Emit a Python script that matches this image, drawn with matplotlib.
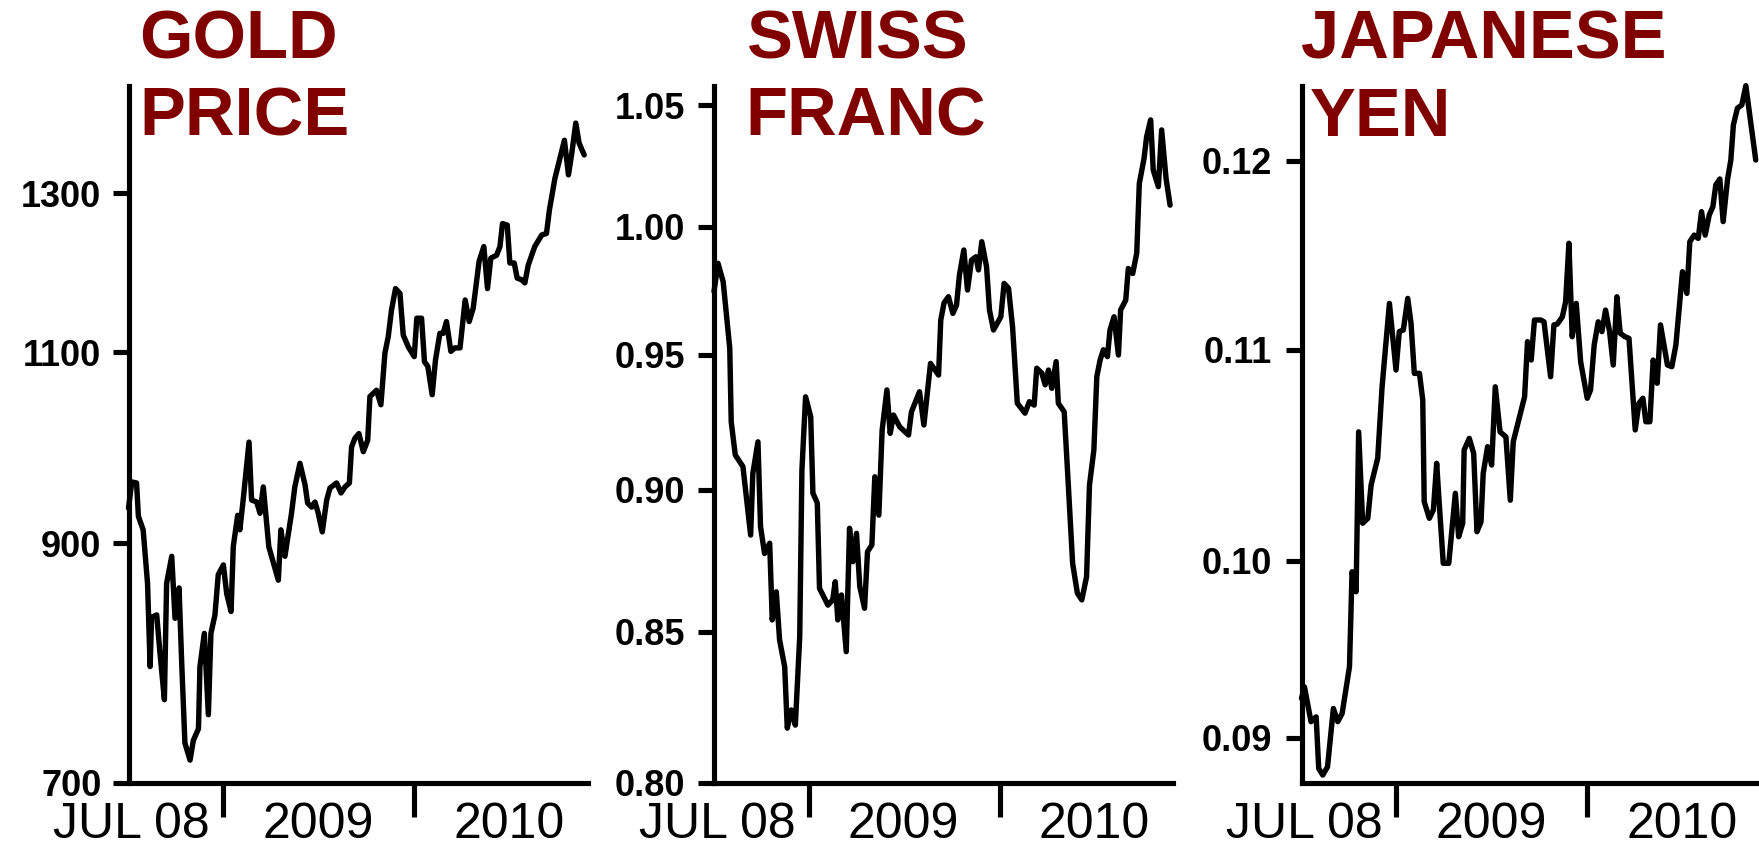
import numpy as np
import matplotlib
matplotlib.use("Agg")
import matplotlib.pyplot as plt
import matplotlib.dates as mdates
from matplotlib.ticker import FixedLocator, FixedFormatter, NullLocator, NullFormatter

# weekly series, x in weeks since the first week of July 2008
START = np.datetime64('2008-07-04')
SPAN_WEEKS = 125.3

gold_weeks = [0, 0.9, 2.2, 2.7, 4.0, 5.2, 5.9, 6.3, 7.7, 8.6, 9.8, 10.4, 11.8, 12.7,
              13.8, 14.5, 15.4, 16.8, 17.7, 19.1, 19.5, 20.7, 21.8, 22.5, 23.6, 24.5,
              25.9, 26.8, 28.0, 28.6, 29.8, 30.4, 31.3, 32.9, 33.6, 35.0, 35.9, 36.8,
              38.3, 40.9, 41.6, 42.7, 44.5, 45.4, 46.8, 48.2, 48.9, 50.0, 50.9, 51.8,
              52.9, 54.1, 55.0, 56.8, 58.0, 59.1, 60.3, 60.9, 61.8, 62.9, 64.1, 65.3,
              65.9, 67.7, 68.9, 70.0, 70.9, 71.8, 72.9, 74.1, 75.0, 76.4, 78.0, 78.7,
              80.0, 80.8, 81.7, 82.9, 83.8, 85.0, 85.9, 86.8, 88.0, 89.1, 90.5, 91.9,
              93.0, 94.1, 95.7, 97.0, 98.0, 98.9, 100.5, 101.4, 102.1, 103.4, 104.1,
              105.3, 106.1, 107.3, 108.2, 109.1, 110.9, 112.8, 114.1, 114.9, 116.4,
              119.0, 120.1, 121.0, 122.1, 123.0, 124.4]
gold_price = [934, 960, 959, 926, 913, 863, 791, 833, 835, 802, 764, 863, 888, 832,
              859, 796, 730, 717, 732, 741, 791, 819, 752, 819, 835, 871,
              880, 854, 838, 897, 927, 913, 942, 1001, 942, 940, 929, 955,
              897, 866, 913, 888, 929, 955, 979, 957, 939, 935, 940, 929,
              911, 942, 954, 959, 949, 955, 959, 996, 1005, 1010, 991, 1003,
              1050, 1057, 1041, 1099, 1118, 1150, 1176, 1170, 1120, 1106, 1095, 1140,
              1140, 1089, 1084, 1052, 1091, 1122, 1122, 1136, 1101, 1105, 1105, 1162,
              1136, 1152, 1210, 1229, 1176, 1214, 1218, 1229, 1259, 1257, 1208,
              1208, 1189, 1187, 1183, 1205, 1229, 1244, 1246, 1277, 1320,
              1374, 1325, 1355, 1399, 1370, 1353]

franc_weeks = [0, 1.1, 2.5, 4.3, 4.7, 5.8, 7.9, 10.0, 10.6, 12.0, 12.7, 13.8, 15.2,
               15.9, 17.0, 17.9, 19.3, 20.0, 21.1, 22.2, 23.4, 24.0, 25.0, 26.4, 27.0,
               28.2, 28.8, 31.1, 32.4, 33.1, 33.8, 34.8, 36.1, 37.0, 37.9, 38.9, 39.8,
               41.1, 41.9, 43.1, 43.9, 45.0, 45.9, 47.2, 48.1, 49.0, 50.7, 53.1, 53.9,
               56.1, 57.3, 59.1, 61.3, 61.9, 62.8, 64.0, 65.2, 66.2, 67.0, 68.2, 69.2,
               70.3, 71.5, 72.2, 73.1, 74.4, 75.2, 76.3, 78.3, 79.2, 80.4, 81.5, 82.8,
               84.9, 86.1, 87.4, 88.1, 89.5, 90.4, 91.3, 92.2, 93.4, 94.0, 95.6, 96.7,
               97.9, 99.2, 100.4, 101.7, 102.5, 103.7, 104.5, 105.4, 106.3, 107.4,
               108.1, 109.2, 110.4, 111.0, 112.4, 113.1, 114.3, 115.4, 116.1, 117.4,
               118.1, 119.2, 119.9, 121.3, 122.2, 123.4, 124.5]
franc_usd = [0.9744, 0.9855, 0.9783, 0.9525, 0.9248, 0.9126, 0.9083, 0.8837, 0.9058,
             0.9174, 0.8867, 0.8772, 0.8808, 0.8541, 0.8638, 0.8473, 0.8382, 0.8178,
             0.8238, 0.8188, 0.8484, 0.9070, 0.9341, 0.9267, 0.8987, 0.8951, 0.8650,
             0.8592, 0.8610, 0.8673, 0.8541, 0.8627, 0.8433, 0.8861, 0.8743, 0.8843,
             0.8656, 0.8581, 0.8778, 0.8802, 0.9046, 0.8908, 0.9217, 0.9367, 0.9205,
             0.9273, 0.9229, 0.9199, 0.9285, 0.9360, 0.9236, 0.9467, 0.9423, 0.9633,
             0.9700, 0.9724, 0.9659, 0.9691, 0.9809, 0.9908, 0.9750, 0.9868, 0.9881,
             0.9829, 0.9941, 0.9842, 0.9672, 0.9595, 0.9646, 0.9776, 0.9757, 0.9608,
             0.9317, 0.9280, 0.9323, 0.9310, 0.9449, 0.9430, 0.9386, 0.9442, 0.9373,
             0.9474, 0.9317, 0.9285, 0.9022, 0.8737, 0.8633, 0.8610, 0.8690, 0.9016,
             0.9144, 0.9417, 0.9480, 0.9519, 0.9493, 0.9595, 0.9646, 0.9499, 0.9672,
             0.9711, 0.9835, 0.9815, 0.9895, 1.0176, 1.0279, 1.0369, 1.0439, 1.0231,
             1.0163, 1.0397, 1.0197, 1.0088]

yen_weeks = [0, 0.8, 2.6, 4.0, 4.7, 5.8, 7.1, 8.7, 9.9, 11.1, 13.1, 13.8, 14.9, 15.6,
             16.7, 18.1, 19.0, 20.8, 22.0, 24.0, 25.8, 26.7, 27.8, 29.0, 29.9, 30.8,
             32.2, 33.1, 33.5, 34.9, 36.0, 36.9, 37.6, 38.7, 40.2, 42.0, 42.9, 44.0,
             44.4, 45.8, 47.0, 47.9, 49.0, 49.6, 50.8, 51.9, 52.9, 54.2, 55.8, 57.0,
             57.8, 60.9, 61.7, 62.7, 63.6, 65.3, 66.2, 68.0, 68.9, 69.8, 71.2, 72.1,
             73.0, 73.9, 75.0, 76.2, 78.0, 78.9, 79.9, 81.0, 82.0, 83.0, 84.1, 85.1,
             86.1, 87.0, 88.3, 89.4, 91.1, 92.1, 93.2, 94.0, 95.1, 96.0, 97.1, 98.0,
             99.9, 101.1, 102.2, 103.1, 104.0, 105.2, 106.0, 107.2, 108.3, 109.2,
             110.2, 111.3, 112.3, 113.1, 114.2, 115.1, 116.3, 117.2, 117.9, 119.0,
             120.2, 121.3, 122.6, 124.0]
yen_usd = [0.09178, 0.09231, 0.09072, 0.09094, 0.08863, 0.08834, 0.08870, 0.09132,
           0.09072, 0.09110, 0.09324, 0.09776, 0.09679, 0.10482, 0.10015, 0.10040,
           0.10208, 0.10345, 0.10720, 0.11175, 0.10810, 0.11019, 0.11028, 0.11203,
           0.11065, 0.10792, 0.10792, 0.10650, 0.10123, 0.10040, 0.10082, 0.10319,
           0.10115, 0.09817, 0.09817, 0.10166, 0.09948, 0.10015, 0.10388, 0.10448,
           0.10370, 0.09973, 0.10022, 0.10267, 0.10405, 0.10310, 0.10720, 0.10482,
           0.10456, 0.10131, 0.10430, 0.10667, 0.10964, 0.10864, 0.11083, 0.11083,
           0.11073, 0.10774, 0.11056, 0.11060, 0.11100, 0.11184, 0.11515, 0.10991,
           0.11175, 0.10855, 0.10659, 0.10703, 0.10946, 0.11073, 0.11019, 0.11138,
           0.11019, 0.10837, 0.11212, 0.11010, 0.10991, 0.10982, 0.10492, 0.10632,
           0.10659, 0.10535, 0.10535, 0.10864, 0.10739, 0.11056, 0.10837, 0.10828,
           0.10946, 0.11147, 0.11353, 0.11231, 0.11524, 0.11562, 0.11543, 0.11698,
           0.11562, 0.11678, 0.11727, 0.11855, 0.11890, 0.11640, 0.11887, 0.12003,
           0.12215, 0.12317, 0.12337, 0.12456, 0.12235, 0.12003]

gold_ticks = [700, 900, 1100, 1300]
gold_labels = ['700', '900', '1100', '1300']
franc_ticks = [0.80, 0.85, 0.90, 0.95, 1.00, 1.05]
franc_labels = ['0.80', '0.85', '0.90', '0.95', '1.00', '1.05']
yen_ticks = [0.09, 0.0983, 0.1092, 0.12]
yen_labels = ['0.09', '0.10', '0.11', '0.12']

year_labels = ['JUL 08', '2009', '2010']
year_label_dates = ['2008-07-10', '2009-07-01', '2010-07-01']

DARK_RED = '#800000'
W, H = 1759, 848

fig = plt.figure(figsize=(W / 100, H / 100), dpi=100)

start_num = mdates.date2num(START)
label_pos = [mdates.date2num(np.datetime64(d)) for d in year_label_dates]

panels = [
    # left px, weeks, values, ylim, ticks, labels, label pad, title lines with x px
    (128.5, gold_weeks, gold_price, (700, 1454.5), gold_ticks, gold_labels, 8,
     [('GOLD', 139), ('PRICE', 139)]),
    (714, franc_weeks, franc_usd, (0.80, 1.0582), franc_ticks, franc_labels, 9,
     [('SWISS', 747), ('FRANC', 745)]),
    (1301.5, yen_weeks, yen_usd, (0.08799, 0.12454), yen_ticks, yen_labels, 10,
     [('JAPANESE', 1301), ('YEN', 1310)]),
]

for left, weeks, vals, ylim, ticks, labels, ypad, title in panels:
    ax = fig.add_axes([left / W, 65 / H, 459 / W, 697 / H])
    x = start_num + np.array(weeks) * 7
    ax.plot(x, vals, color='black', lw=3.9, solid_joinstyle='round',
            solid_capstyle='round', clip_on=False)

    ax.set_yscale('log')
    ax.set_ylim(*ylim)
    ax.set_xlim(start_num, start_num + SPAN_WEEKS * 7)
    ax.set_yticks(ticks)
    ax.set_yticklabels(labels)
    ax.yaxis.set_minor_locator(NullLocator())
    ax.yaxis.set_minor_formatter(NullFormatter())

    ax.xaxis.set_major_locator(mdates.YearLocator())
    ax.xaxis.set_major_formatter(NullFormatter())
    ax.xaxis.set_minor_locator(FixedLocator(label_pos))
    ax.xaxis.set_minor_formatter(FixedFormatter(year_labels))

    for s in ['top', 'right']:
        ax.spines[s].set_visible(False)
    for s in ['left', 'bottom']:
        ax.spines[s].set_linewidth(3.7)

    ax.tick_params(axis='y', which='major', length=11.5, width=3.7, pad=ypad)
    ax.tick_params(axis='x', which='major', length=24.5, width=3.7)
    ax.tick_params(axis='x', which='minor', length=0, pad=14)
    for t in ax.get_yticklabels():
        t.set_fontfamily('Liberation Sans')
        t.set_fontweight('bold')
        t.set_fontsize(26)
    for t in ax.xaxis.get_minorticklabels():
        t.set_fontfamily('Liberation Sans')
        t.set_fontsize(36)

    for i, (txt, tx) in enumerate(title):
        base = 58.3 + i * 77.7
        fig.text(tx / W, 1 - base / H, txt, color=DARK_RED, fontsize=49.5,
                 fontweight='bold', family='Liberation Sans', ha='left', va='baseline')

fig.savefig('out.png', dpi=100)
